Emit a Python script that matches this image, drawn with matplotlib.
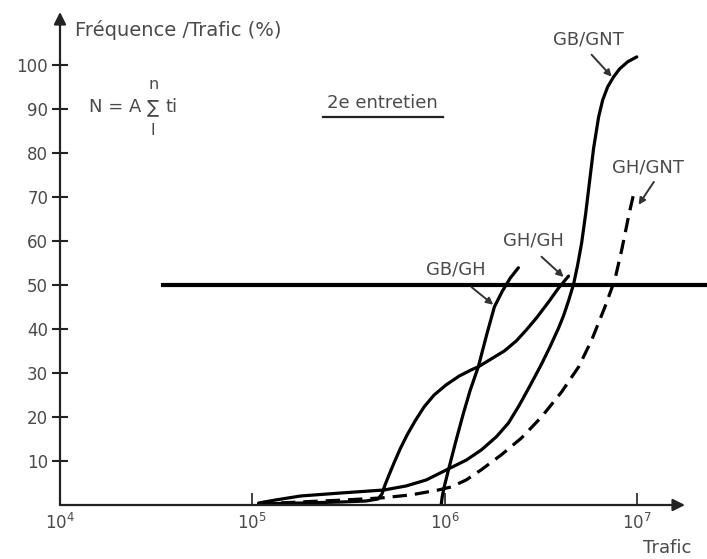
import matplotlib
matplotlib.use("Agg")
import matplotlib.pyplot as plt

# ---- data ----
gbgnt_x = [1.079e5, 1.322e5, 1.786e5, 2.888e5, 4.840e5, 6.303e5, 8.013e5, 1.044e6, 1.296e6, 1.551e6,
           1.858e6, 2.146e6, 2.448e6, 2.828e6, 3.190e6, 3.511e6, 3.913e6, 4.154e6, 4.411e6, 4.685e6,
           4.916e6, 5.157e6, 5.410e6, 5.675e6, 5.955e6, 6.324e6, 6.637e6, 7.046e6, 7.572e6, 8.138e6,
           8.960e6, 9.98e6]
gbgnt_y = [0.45, 1.14, 2.05, 2.73, 3.41, 4.32, 5.68, 8.18, 10.2, 12.5,
           15.5, 18.6, 22.7, 27.7, 32.0, 35.7, 40.2, 43.0, 46.4, 50.2,
           54.5, 59.5, 66.1, 73.6, 81.1, 88.2, 92.0, 95.0, 97.3, 99.1,
           100.7, 101.8]

ghgh_x = [1.079e5, 1.786e5, 2.888e5, 3.898e5, 4.503e5, 4.724e5, 4.898e5, 5.138e5, 5.456e5, 5.865e5,
          6.379e5, 7.023e5, 7.823e5, 8.822e5, 1.019e6, 1.191e6, 1.376e6, 1.497e6, 1.750e6, 2.045e6,
          2.362e6, 2.664e6, 3.004e6, 3.469e6, 3.913e6, 4.411e6]
ghgh_y = [0.23, 0.45, 0.68, 0.91, 1.36, 2.5, 4.55, 6.82, 9.55, 12.7,
          15.9, 19.1, 22.3, 25.0, 27.3, 29.3, 30.7, 31.4, 33.2, 35.0,
          37.3, 39.8, 42.5, 46.1, 49.3, 52.0]

gbgh_x = [9.596e5, 9.712e5, 9.947e5, 1.056e6, 1.149e6, 1.250e6, 1.359e6, 1.497e6, 1.648e6, 1.814e6,
          1.997e6, 2.198e6, 2.419e6]
gbgh_y = [0.0, 1.8, 4.1, 8.6, 14.8, 20.7, 26.1, 31.4, 38.4, 45.0,
          48.6, 51.6, 53.9]

ghgnt_x = [1.079e5, 1.786e5, 2.888e5, 4.67e5, 6.70e5, 9.25e5, 1.082e6, 1.296e6, 1.551e6, 1.972e6,
           2.507e6, 3.19e6, 4.06e6, 4.98e6, 5.82e6, 6.79e6, 7.67e6, 8.34e6, 9.08e6, 9.64e6]
ghgnt_y = [0.2, 0.7, 1.1, 1.6, 2.3, 3.4, 4.1, 5.7, 8.0, 11.4,
           15.2, 20.0, 25.7, 31.4, 37.5, 44.8, 51.1, 58.0, 65.9, 70.9]

hline_x = [3.44e4, 2.4e7]
hline_y = [50, 50]

y_ticks = [10, 20, 30, 40, 50, 60, 70, 80, 90, 100]
x_ticks = [1e4, 1e5, 1e6, 1e7]
x_ticklabels = [r"$10^{4}$", r"$10^{5}$", r"$10^{6}$", r"$10^{7}$"]

# ---- figure ----
TXT = "#4a4a4a"
plt.rcParams['font.family'] = ['DejaVu Sans']
fig = plt.figure(figsize=(7.07, 5.59), dpi=100)
ax = fig.add_axes([60/707, 54/559, 625/707, 493/559])
ax.set_xscale('log')
ax.set_xlim(1e4, 10**7.25)
ax.set_ylim(0, 112.0)
for s in ax.spines.values():
    s.set_visible(False)

# axes with arrows
arrow_kw = dict(arrowstyle='-|>', lw=1.6, color='#222222', mutation_scale=18,
                shrinkA=0, shrinkB=0)
ax.annotate('', xy=(1, 0), xytext=(0, 0), xycoords='axes fraction',
            textcoords='axes fraction', arrowprops=arrow_kw, annotation_clip=False)
ax.annotate('', xy=(0, 1), xytext=(0, 0), xycoords='axes fraction',
            textcoords='axes fraction', arrowprops=arrow_kw, annotation_clip=False)

ax.set_yticks(y_ticks)
ax.set_yticklabels([str(v) for v in y_ticks])
ax.tick_params(axis='y', direction='inout', length=11, width=1.5, color='#222222',
               labelsize=12, labelcolor=TXT, pad=3)
ax.set_xticks(x_ticks)
ax.set_xticklabels(x_ticklabels)
ax.xaxis.set_minor_locator(matplotlib.ticker.NullLocator())
ax.tick_params(axis='x', direction='in', length=9, width=1.3, color='#333333',
               labelsize=12, labelcolor=TXT, pad=6)

# curves
lw = 2.3
common = dict(color='black', lw=lw, solid_capstyle='round', solid_joinstyle='round')
ax.plot(gbgnt_x, gbgnt_y, **common)
ax.plot(ghgh_x, ghgh_y, **common)
ax.plot(gbgh_x, gbgh_y, **common)
ax.plot(ghgnt_x, ghgnt_y, color='black', lw=lw, dashes=(4.5, 2.5), dash_joinstyle='round')

# horizontal black line
ax.plot(hline_x, hline_y, color='black', lw=3.0, clip_on=False)

# texts
FS = 13
ax.text(1.2e4, 108, "Fréquence /Trafic (%)", fontsize=14, color=TXT, ha='left', va='center')
ax.text(1.42e4, 90.5, "N = A", fontsize=FS, color=TXT, ha='left', va='center')
ax.text(3.05e4, 90.3, "∑", fontsize=13, color=TXT, ha='center', va='center')
ax.text(3.05e4, 95.5, "n", fontsize=11.5, color=TXT, ha='center', va='center')
ax.text(3.05e4, 85.0, "l", fontsize=11.5, color=TXT, ha='center', va='center')
ax.text(3.55e4, 90.5, "ti", fontsize=FS, color=TXT, ha='left', va='center')

ax.text(4.72e5, 91.4, "2e entretien", fontsize=FS, color=TXT, ha='center', va='center')
ax.plot([2.32e5, 9.8e5], [88.2, 88.2], color='#222222', lw=1.6)

ax.text(1.43e7, -9.8, "Trafic", fontsize=FS, color=TXT, ha='center', va='center',
        clip_on=False)

# curve labels and pointer arrows
pk = dict(arrowstyle='-|>', lw=1.4, color='#333333', mutation_scale=10, shrinkA=0, shrinkB=0)
ax.text(5.61e6, 105.7, "GB/GNT", fontsize=FS, color=TXT, ha='center', va='center')
ax.annotate('', xy=(7.40e6, 97.3), xytext=(5.81e6, 102.3), arrowprops=pk)
ax.text(1.14e7, 76.6, "GH/GNT", fontsize=FS, color=TXT, ha='center', va='center')
ax.annotate('', xy=(1.02e7, 68.2), xytext=(1.225e7, 73.4), arrowprops=pk)
ax.text(2.90e6, 60.2, "GH/GH", fontsize=FS, color=TXT, ha='center', va='center')
ax.annotate('', xy=(4.16e6, 51.8), xytext=(3.19e6, 56.4), arrowprops=pk)
ax.text(1.15e6, 53.4, "GB/GH", fontsize=FS, color=TXT, ha='center', va='center')
ax.annotate('', xy=(1.79e6, 45.5), xytext=(1.38e6, 49.5), arrowprops=pk)

fig.savefig("out.png", dpi=100)
